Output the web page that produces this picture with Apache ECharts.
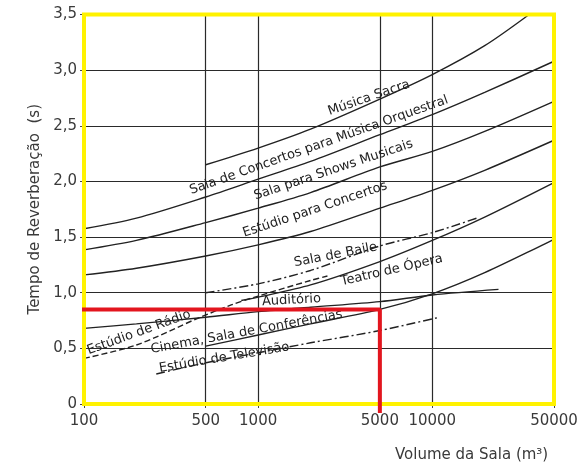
<!DOCTYPE html>
<html>
<head>
<meta charset="utf-8">
<script src="https://cdn.jsdelivr.net/npm/echarts@6/dist/echarts.min.js"></script>
<style>
html,body{margin:0;padding:0;background:#fff;}
#c{width:581px;height:467px;}
</style>
</head>
<body>
<div id="c"></div>
<script>
// ---- data ----
const xTickValues = [100, 500, 1000, 5000, 10000, 50000];
const musicaSacra = [[500,2.15],[1000,2.30],[2000,2.47],[5000,2.74],[10000,2.96],[20000,3.22],[36000,3.5]];
const concertosOrquestral = [[100,1.575],[200,1.67],[500,1.86],[1000,2.02],[2000,2.18],[5000,2.42],[10000,2.60],[20000,2.80],[50000,3.08]];
const showsMusicais = [[100,1.385],[200,1.47],[500,1.63],[1000,1.76],[2000,1.90],[5000,2.13],[10000,2.27],[20000,2.45],[50000,2.72]];
const estudioConcertos = [[100,1.16],[200,1.22],[500,1.33],[1000,1.43],[2000,1.55],[5000,1.76],[10000,1.92],[20000,2.10],[50000,2.37]];
const salaBaile = [[500,1.00],[1000,1.08],[2000,1.20],[5000,1.42],[10000,1.54],[18000,1.67]];
const teatroOpera = [[800,0.93],[1000,0.96],[2000,1.07],[5000,1.28],[10000,1.47],[20000,1.68],[50000,1.99]];
const auditorio = [[100,0.68],[200,0.72],[500,0.78],[1000,0.83],[2000,0.87],[5000,0.92],[10000,0.98],[24000,1.03]];
const cinemaConferencias = [[500,0.52],[1000,0.62],[2000,0.72],[5000,0.85],[10000,0.99],[20000,1.18],[50000,1.48]];
const estudioRadio = [[100,0.41],[200,0.53],[450,0.77],[700,0.89],[1000,0.97],[2000,1.11],[2500,1.15]];
const estudioTelevisao = [[260,0.27],[500,0.37],[1000,0.46],[2000,0.55],[5000,0.66],[11000,0.78]];
const exemploLeitura = [[95,0.85],[5000,0.85],[5000,-0.08]];

// label texts and where they sit (data coords) + angle
const curveLabels = [
  {text:'Música Sacra', at:[2600,2.57], angle:19},
  {text:'Sala de Concertos para Música Orquestral', at:[418,1.86], angle:19.5},
  {text:'Sala para Shows Musicais', at:[977,1.81], angle:18.5},
  {text:'Estúdio para Concertos', at:[844,1.476], angle:18.5},
  {text:'Sala de Baile', at:[1637,1.21], angle:11},
  {text:'Teatro de Ópera', at:[3054,1.04], angle:13},
  {text:'Auditório', at:[1058,0.86], angle:3},
  {text:'Cinema, Sala de Conferências', at:[246,0.43], angle:10.5},
  {text:'Estúdio de Televisão', at:[274,0.26], angle:9.5},
  {text:'Estúdio de Rádio', at:[108,0.42], angle:20}
];

const FONT = 'DejaVu Sans';
const ink = '#222';

function curve(name, data, dash){
  return {
    name, type:'line', data, smooth:0.3, showSymbol:false, symbol:'none',
    lineStyle:{color:ink, width:1.4, type: dash || 'solid'},
    z:3, silent:true, animation:false
  };
}

const chart = echarts.init(document.getElementById('c'), null, {renderer:'canvas'});
chart.setOption({
  animation:false,
  backgroundColor:'#fff',
  grid:{left:84, right:27, top:14.5, bottom:63, show:true, borderColor:'#fff200', borderWidth:4, backgroundColor:'transparent', z:10},
  xAxis:{
    type:'log', logBase:10, min:100, max:50000,
    axisLine:{show:false},
    axisTick:{show:true, customValues:xTickValues, length:4, lineStyle:{color:'#444'}},
    axisLabel:{customValues:xTickValues, color:'#3a3a3a', fontFamily:FONT, fontSize:15, margin:10,
      formatter:v => String(Math.round(v))},
    splitLine:{show:true, lineStyle:{color:'#2a2a2a', width:1.2}},
    minorSplitLine:{show:false}
  },
  yAxis:{
    type:'value', min:0, max:3.5, interval:0.5,
    axisLine:{show:false},
    axisTick:{show:true, length:4, lineStyle:{color:'#444'}},
    axisLabel:{color:'#3a3a3a', fontFamily:FONT, fontSize:15, margin:7,
      formatter:v => v===0 ? '0' : v.toFixed(1).replace('.', ',')},
    splitLine:{show:true, lineStyle:{color:'#2a2a2a', width:1.2}},
    name:'Tempo de Reverberação  (s)', nameLocation:'middle', nameGap:36,
    nameTextStyle:{color:'#3a3a3a', fontFamily:FONT, fontSize:15}
  },
  series:[
    curve('Música Sacra', musicaSacra),
    curve('Sala de Concertos para Música Orquestral', concertosOrquestral),
    curve('Sala para Shows Musicais', showsMusicais),
    curve('Estúdio para Concertos', estudioConcertos),
    curve('Sala de Baile', salaBaile, [9,3,2,3]),
    curve('Teatro de Ópera', teatroOpera),
    curve('Auditório', auditorio),
    curve('Cinema, Sala de Conferências', cinemaConferencias),
    curve('Estúdio de Rádio', estudioRadio, [6,3]),
    curve('Estúdio de Televisão', estudioTelevisao, [9,3,2,3]),
    {name:'Exemplo', type:'line', data:exemploLeitura, showSymbol:false, symbol:'none', clip:false,
     lineStyle:{color:'#e3151e', width:4}, z:20, silent:true}
  ]
});

const graphics = curveLabels.map(l => {
  const p = chart.convertToPixel({gridIndex:0}, l.at);
  return {type:'text', x:p[0], y:p[1], rotation:l.angle*Math.PI/180, z:15,
    style:{text:l.text, font:'13px "'+FONT+'"', fill:ink, align:'left', verticalAlign:'bottom', textAlign:'left', textVerticalAlign:'bottom'}};
});
graphics.push({type:'text', x:395, y:455, z:15,
  style:{text:'Volume da Sala (m³)', font:'15px "'+FONT+'"', fill:'#3a3a3a', align:'left', verticalAlign:'middle', textAlign:'left', textVerticalAlign:'middle'}});
chart.setOption({graphic:graphics});
</script>
</body>
</html>
